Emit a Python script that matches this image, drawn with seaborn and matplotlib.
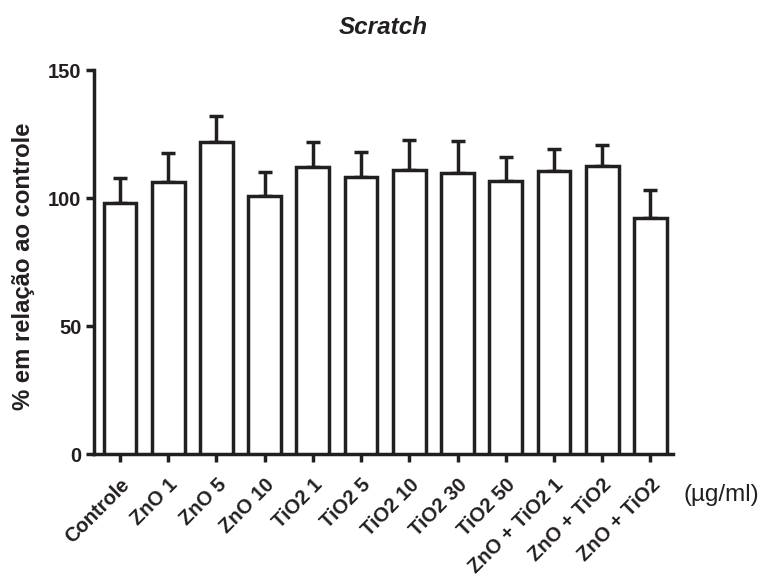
import matplotlib
matplotlib.use("Agg")
import matplotlib.pyplot as plt
import seaborn as sns
import numpy as np
import pandas as pd

categories = ["Controle", "ZnO 1", "ZnO 5", "ZnO 10", "TiO2 1", "TiO2 5",
              "TiO2 10", "TiO2 30", "TiO2 50", "ZnO + TiO2 1", "ZnO + TiO2", "ZnO + TiO2"]
means = [98.2, 106.1, 121.8, 100.9, 112.2, 108.3, 110.9, 109.9, 106.8, 110.7, 112.5, 92.2]
errors = [9.5, 11.4, 10.2, 9.1, 9.8, 9.7, 11.8, 12.5, 9.3, 8.3, 8.1, 10.9]
yticks = [0, 50, 100, 150]

INK = "#231f20"
LW = 2.5
sns.set_theme(style="ticks")
plt.rcParams["font.family"] = ["Liberation Sans", "DejaVu Sans"]

fig = plt.figure(figsize=(7.68, 5.85), dpi=100)
ax = fig.add_axes([94/768, 1-454/585, (673-94)/768, (454-70)/585])

df = pd.DataFrame({"pos": np.arange(len(categories)), "val": means})
sns.barplot(data=df, x="pos", y="val", color="white", edgecolor=INK,
            linewidth=LW, width=0.68, ax=ax, errorbar=None, saturation=1, zorder=3)
for p in ax.patches:
    p.set_facecolor("white")
ax.errorbar(np.arange(len(categories)), means,
            yerr=[np.zeros(len(errors)), errors], fmt="none",
            ecolor=INK, elinewidth=LW, capsize=5, capthick=LW, zorder=2)

ax.set_xlim(-0.54, 11.47)
ax.set_ylim(0, 150)
ax.set_yticks(yticks)
ax.set_yticklabels([str(t) for t in yticks], fontsize=14.5, fontweight="bold", color=INK)
ax.set_xticks(np.arange(len(categories)))
ax.set_xticklabels(categories, rotation=45, ha="right", rotation_mode="anchor",
                   fontsize=14.5, fontweight="bold", color=INK)
ax.set_xlabel("")
ax.set_ylabel("% em relação ao controle", fontsize=17.2, fontweight="bold", color=INK)
ax.yaxis.set_label_coords(-0.102, 0.49)

for s in ["top", "right"]:
    ax.spines[s].set_visible(False)
for s in ["left", "bottom"]:
    ax.spines[s].set_linewidth(LW)
    ax.spines[s].set_color(INK)
ax.tick_params(axis="both", width=LW, length=6, color=INK, pad=3)
ax.tick_params(axis="x", pad=9)

fig.text(383/768, 1-28/585, "Scratch", ha="center", va="center", fontsize=17.5,
         fontweight="bold", fontstyle="italic", color=INK)
fig.text(721/768, 1-495/585, "(\u00b5g/ml)", ha="center", va="center", fontsize=17.5, color=INK)

fig.savefig("out.png", dpi=100)
